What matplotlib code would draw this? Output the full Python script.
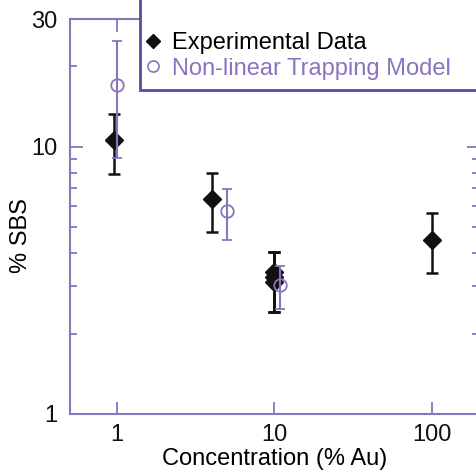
import matplotlib
matplotlib.use('Agg')
import matplotlib.pyplot as plt
import numpy as np
from matplotlib.ticker import FixedLocator, NullFormatter
from matplotlib.lines import Line2D
from matplotlib.patches import Rectangle

plt.rcParams['font.family'] = ['Liberation Sans', 'DejaVu Sans']

# Experimental data (black diamonds)
exp_x = [0.96, 4.0, 10.0, 10.0, 10.0, 100.0]
exp_y = [10.6, 6.38, 3.39, 3.24, 3.11, 4.48]
exp_lo = [7.92, 4.78, 2.41, 2.41, 2.41, 3.38]
exp_hi = [13.2, 7.96, 4.02, 4.02, 4.02, 5.64]

# Non-linear trapping model (open circles)
mod_x = [1.0, 5.0, 10.9]
mod_y = [17.0, 5.74, 3.04]
mod_lo = [9.04, 4.48, 2.48]
mod_hi = [24.9, 6.96, 3.59]

x_ticks = [1, 10, 100]
y_major = [1, 10, 30]
y_minor = [2, 3, 4, 5, 6, 7, 8, 9, 20]

purple = '#8a74bd'
legend_edge = '#4f4ea3'
fs = 17

fig = plt.figure(figsize=(4.77, 4.74), dpi=100)
ax = fig.add_axes([70 / 477, 60 / 474, 409 / 477, 395 / 474])

ey = np.array(exp_y)
ax.errorbar(exp_x, exp_y, yerr=[ey - np.array(exp_lo), np.array(exp_hi) - ey],
            fmt='D', color='#111111', ms=9, capsize=4, elinewidth=1.8,
            capthick=1.8, zorder=3)
my = np.array(mod_y)
ax.errorbar(mod_x, mod_y, yerr=[my - np.array(mod_lo), np.array(mod_hi) - my],
            fmt='o', color=purple, mfc='none', ms=9, mew=1.3, capsize=3.5,
            elinewidth=1.5, capthick=1.5, zorder=4)

ax.set_xscale('log')
ax.set_yscale('log')
ax.set_xlim(0.503, 200)
ax.set_ylim(1, 30)

ax.xaxis.set_major_locator(FixedLocator(x_ticks))
ax.xaxis.set_minor_locator(FixedLocator([]))
ax.set_xticklabels([str(v) for v in x_ticks])
ax.yaxis.set_major_locator(FixedLocator(y_major))
ax.yaxis.set_minor_locator(FixedLocator(y_minor))
ax.set_yticklabels([str(v) for v in y_major])
ax.yaxis.set_minor_formatter(NullFormatter())

ax.tick_params(which='both', direction='in', top=True, right=True,
               color=purple, width=1.3, labelsize=fs, labelcolor='#111111')
ax.tick_params(which='major', length=9)
ax.tick_params(which='minor', length=5)
ax.tick_params(axis='x', pad=7.5)
ax.tick_params(axis='y', pad=9)
for s in ax.spines.values():
    s.set_color(purple)
    s.set_linewidth(1.5)

ax.set_xlabel('Concentration (% Au)', fontsize=fs)
ax.xaxis.set_label_coords(0.5, -0.086)
ax.set_ylabel('% SBS', fontsize=fs)
ax.yaxis.set_label_coords(-0.092, 0.452)

# legend box runs past the right edge of the figure
box = Rectangle(((140 - 70) / 409, (413 - 90) / 394), 0.9, 0.3,
                transform=ax.transAxes, facecolor='white',
                edgecolor=legend_edge, linewidth=2, clip_on=False, zorder=5)
ax.add_patch(box)

handles = [Line2D([], [], ls='none', marker='D', color='#111111', ms=7),
           Line2D([], [], ls='none', marker='o', color=purple, mfc='none',
                  ms=8, mew=1.2)]
leg = ax.legend(handles, ['Experimental Data', 'Non-linear Trapping Model'],
                loc='upper left', bbox_to_anchor=((145 - 70) / 409, (413 - 32) / 394),
                borderaxespad=0, borderpad=0, frameon=False, fontsize=fs,
                handlelength=0.7, handletextpad=0.45, labelspacing=0.15)
leg.set_zorder(6)
leg.get_texts()[1].set_color(purple)

fig.savefig('out.png', dpi=100)
